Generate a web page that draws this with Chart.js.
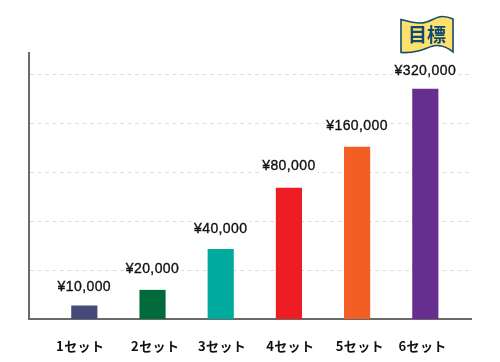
<!DOCTYPE html>
<html lang="ja">
<head>
<meta charset="utf-8">
<style>html,body{margin:0;padding:0;background:#fff}canvas{display:block}</style>
<script src="https://cdn.jsdelivr.net/npm/chart.js@4"></script>
</head>
<body>
<canvas id="c" width="500" height="362"></canvas>
<script>
const categories = ['1セット','2セット','3セット','4セット','5セット','6セット'];
const priceLabels = ['¥10,000','¥20,000','¥40,000','¥80,000','¥160,000','¥320,000'];
// Bar heights, in gridline units (the bars are not drawn to price scale)
const barHeights = [0.27, 0.59, 1.43, 2.68, 3.52, 4.71];
const barColors = ['#464a79','#006a3a','#00ab9e','#ee1c25','#f25e23','#662e8f'];
const barSlots = [1,2,3,4,5,6];
const gridLevels = [1,2,3,4,5];
const tickSlots = [0.94,2.04,3.02,4.02,5.04,5.96];
const labelGaps = [19,21,20,22,21,18];
const flagText = '目標';

const labelPlugin = {
  id:'labels',
  afterDatasetsDraw(chart){
    const {ctx} = chart;
    const meta = chart.getDatasetMeta(0);
    ctx.save();
    ctx.letterSpacing='0.4px';
    ctx.font = '14px "Liberation Sans", Arial, sans-serif';
    ctx.textAlign='center'; ctx.textBaseline='middle';
    meta.data.forEach((el,i)=>{
      const w = ctx.measureText(priceLabels[i]).width;
      const y = el.y-labelGaps[i];
      ctx.fillStyle='#fff';
      ctx.fillRect(el.x-w/2-2,y-8,w+4,16);
      ctx.fillStyle='#111';
      ctx.strokeStyle='#111';
      ctx.lineWidth=0.35;
      ctx.fillText(priceLabels[i],el.x,y);
      ctx.strokeText(priceLabels[i],el.x,y);
    });
    ctx.restore();
  }
};
const flagPlugin = {
  id:'flag',
  afterDraw(chart){
    const {ctx} = chart;
    ctx.save();
    ctx.letterSpacing='0px';
    ctx.beginPath();
    ctx.moveTo(401,19.5);
    ctx.bezierCurveTo(410,22,416,23.5,422,23);
    ctx.bezierCurveTo(430,22,436,16.5,442,16.5);
    ctx.quadraticCurveTo(448,16.5,453,19);
    ctx.lineTo(453,52);
    ctx.bezierCurveTo(447,47,442,45,436,45.5);
    ctx.bezierCurveTo(430,46,425,49.5,418,51);
    ctx.quadraticCurveTo(410,53,401,52.5);
    ctx.closePath();
    ctx.fillStyle='#ffe06b';
    ctx.strokeStyle='#124a70';
    ctx.lineWidth=1.6;
    ctx.fill(); ctx.stroke();
    ctx.fillStyle='#0f4a72';
    ctx.font='bold 19px "Noto Sans CJK JP", sans-serif';
    ctx.textAlign='center'; ctx.textBaseline='middle';
    ctx.fillText(flagText,427,35);
    ctx.restore();
  }
};
const spacingPlugin = {
  id:'spacing',
  beforeDraw(chart){ chart.ctx.letterSpacing='0.4px'; }
};

new Chart(document.getElementById('c'),{
  type:'bar',
  data:{datasets:[{
    data:barSlots.map((x,i)=>({x,y:barHeights[i]})),
    backgroundColor:barColors,
    barThickness:25.5,
    borderWidth:0
  }]},
  options:{
    responsive:false,
    animation:false,
    devicePixelRatio:1,
    layout:{padding:{left:29,right:29,top:53,bottom:0}},
    plugins:{legend:{display:false},tooltip:{enabled:false},title:{display:false}},
    scales:{
      x:{
        type:'linear',
        offset:false,
        min:0.189,max:6.67,
        afterBuildTicks(s){ s.ticks = tickSlots.map(value=>({value})); },
        afterFit(s){ s.height=43; },
        grid:{display:false},
        border:{display:true,color:'#6a6a6a',width:2},
        ticks:{
          autoSkip:false,maxRotation:0,padding:11,
          color:'#111',
          font:{family:'"Noto Sans CJK JP", sans-serif',size:13,weight:'700'},
          callback(v,i){ return categories[i]; }
        }
      },
      y:{
        type:'linear',
        min:0,max:5.45,
        afterBuildTicks(s){ s.ticks = gridLevels.map(value=>({value})); },
        afterFit(s){ s.width=0; },
        border:{display:true,color:'#6a6a6a',width:2,dash:[4,3.5]},
        grid:{color:'#dcdcdc',lineWidth:1,drawTicks:false},
        ticks:{display:false}
      }
    }
  },
  plugins:[spacingPlugin,labelPlugin,flagPlugin]
});
</script>
</body>
</html>
